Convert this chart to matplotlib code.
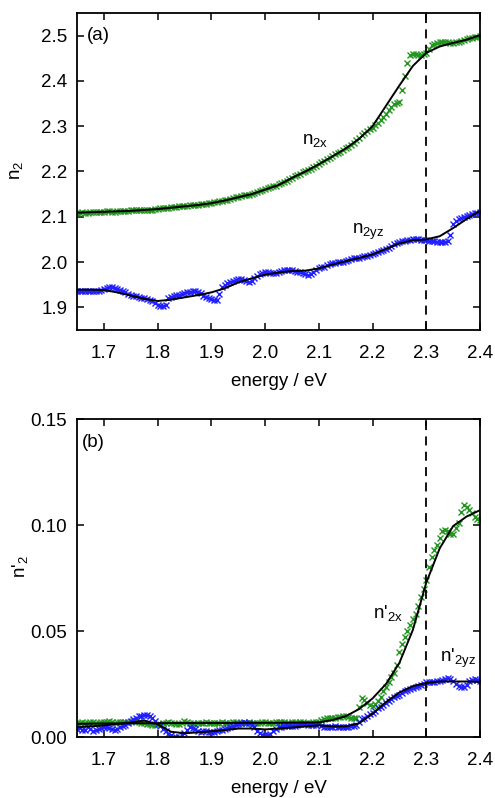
import numpy as np
import matplotlib
matplotlib.use("Agg")
import matplotlib.pyplot as plt
from matplotlib.ticker import FormatStrFormatter

plt.rcParams["font.family"] = ["Liberation Sans", "DejaVu Sans"]
plt.rcParams["mathtext.default"] = "regular"

# measured points, every 0.005 eV from 1.650 to 2.400 (10 per row)
energy = np.round(np.linspace(1.65, 2.40, 151), 3)

n2x = [2.108, 2.109, 2.110, 2.109, 2.108, 2.110, 2.111, 2.110, 2.110, 2.111,
       2.111, 2.112, 2.112, 2.111, 2.111, 2.112, 2.113, 2.113, 2.112, 2.113,
       2.114, 2.114, 2.114, 2.115, 2.115, 2.116, 2.116, 2.116, 2.116, 2.117,
       2.118, 2.119, 2.119, 2.120, 2.120, 2.121, 2.121, 2.122, 2.123, 2.124,
       2.124, 2.124, 2.125, 2.126, 2.126, 2.127, 2.128, 2.129, 2.129, 2.130,
       2.131, 2.132, 2.133, 2.134, 2.135, 2.137, 2.138, 2.140, 2.141, 2.143,
       2.144, 2.146, 2.147, 2.148, 2.149, 2.151, 2.153, 2.155, 2.157, 2.159,
       2.161, 2.163, 2.165, 2.167, 2.169, 2.172, 2.174, 2.177, 2.179, 2.183,
       2.186, 2.189, 2.192, 2.195, 2.198, 2.201, 2.204, 2.206, 2.209, 2.212,
       2.216, 2.220, 2.223, 2.227, 2.230, 2.234, 2.238, 2.241, 2.244, 2.247,
       2.251, 2.255, 2.259, 2.264, 2.269, 2.275, 2.280, 2.285, 2.289, 2.293,
       2.297, 2.302, 2.308, 2.314, 2.320, 2.327, 2.335, 2.342, 2.350, 2.352,
       2.353, 2.380, 2.410, 2.440, 2.458, 2.460, 2.460, 2.458, 2.457, 2.459,
       2.462, 2.470, 2.479, 2.482, 2.484, 2.485, 2.486, 2.486, 2.485, 2.484,
       2.484, 2.485, 2.487, 2.489, 2.491, 2.492, 2.494, 2.495, 2.497, 2.498,
       2.499]

n2yz = [1.936, 1.935, 1.935, 1.936, 1.936, 1.935, 1.935, 1.936, 1.936, 1.938,
        1.941, 1.943, 1.944, 1.944, 1.943, 1.941, 1.938, 1.935, 1.933, 1.930,
        1.928, 1.926, 1.924, 1.922, 1.921, 1.920, 1.918, 1.916, 1.914, 1.910,
        1.906, 1.903, 1.902, 1.905, 1.921, 1.923, 1.925, 1.927, 1.928, 1.930,
        1.931, 1.933, 1.934, 1.935, 1.935, 1.934, 1.931, 1.926, 1.922, 1.920,
        1.919, 1.917, 1.916, 1.930, 1.945, 1.950, 1.953, 1.955, 1.958, 1.960,
        1.962, 1.962, 1.960, 1.958, 1.957, 1.959, 1.965, 1.970, 1.974, 1.976,
        1.977, 1.977, 1.976, 1.976, 1.976, 1.978, 1.980, 1.982, 1.983, 1.983,
        1.982, 1.981, 1.979, 1.977, 1.975, 1.973, 1.972, 1.973, 1.977, 1.982,
        1.986, 1.988, 1.990, 1.993, 1.995, 1.997, 1.999, 2.000, 2.000, 2.001,
        2.002, 2.004, 2.006, 2.008, 2.009, 2.010, 2.011, 2.013, 2.014, 2.015,
        2.017, 2.019, 2.022, 2.024, 2.026, 2.028, 2.030, 2.035, 2.040, 2.042,
        2.044, 2.046, 2.047, 2.048, 2.049, 2.050, 2.050, 2.050, 2.049, 2.049,
        2.048, 2.047, 2.047, 2.046, 2.045, 2.044, 2.044, 2.045, 2.046, 2.060,
        2.085, 2.090, 2.094, 2.097, 2.100, 2.102, 2.104, 2.106, 2.108, 2.109,
        2.110]

dn2x = [0.0065, 0.0068, 0.0070, 0.0066, 0.0068, 0.0072, 0.0069, 0.0066, 0.0068, 0.0070,
        0.0070, 0.0073, 0.0074, 0.0070, 0.0068, 0.0070, 0.0071, 0.0069, 0.0069, 0.0071,
        0.0072, 0.0074, 0.0075, 0.0070, 0.0067, 0.0064, 0.0062, 0.0060, 0.0058, 0.0059,
        0.0060, 0.0063, 0.0066, 0.0068, 0.0070, 0.0067, 0.0064, 0.0062, 0.0061, 0.0068,
        0.0075, 0.0072, 0.0068, 0.0065, 0.0063, 0.0064, 0.0066, 0.0068, 0.0070, 0.0067,
        0.0064, 0.0066, 0.0067, 0.0068, 0.0069, 0.0067, 0.0066, 0.0068, 0.0070, 0.0069,
        0.0068, 0.0067, 0.0066, 0.0068, 0.0069, 0.0067, 0.0065, 0.0066, 0.0068, 0.0069,
        0.0070, 0.0068, 0.0066, 0.0068, 0.0069, 0.0071, 0.0072, 0.0069, 0.0067, 0.0068,
        0.0070, 0.0069, 0.0068, 0.0070, 0.0071, 0.0068, 0.0066, 0.0067, 0.0069, 0.0071,
        0.0072, 0.0078, 0.0085, 0.0088, 0.0090, 0.0091, 0.0092, 0.0094, 0.0095, 0.0097,
        0.0098, 0.0093, 0.0088, 0.0090, 0.0092, 0.0140, 0.0185, 0.0175, 0.0160, 0.0152,
        0.0145, 0.0155, 0.0170, 0.0190, 0.0215, 0.0238, 0.0260, 0.0285, 0.0300, 0.0340,
        0.0400, 0.0440, 0.0470, 0.0500, 0.0530, 0.0555, 0.0580, 0.0620, 0.0660, 0.0700,
        0.0740, 0.0800, 0.0850, 0.0880, 0.0905, 0.0940, 0.0970, 0.0975, 0.0970, 0.0960,
        0.0960, 0.0985, 0.1010, 0.1060, 0.1095, 0.1085, 0.1070, 0.1055, 0.1040, 0.1030,
        0.1025]

dn2yz = [0.0040, 0.0042, 0.0035, 0.0032, 0.0045, 0.0040, 0.0030, 0.0034, 0.0038, 0.0044,
         0.0048, 0.0045, 0.0042, 0.0038, 0.0035, 0.0040, 0.0048, 0.0052, 0.0055, 0.0065,
         0.0075, 0.0085, 0.0092, 0.0097, 0.0100, 0.0102, 0.0105, 0.0098, 0.0088, 0.0075,
         0.0060, 0.0050, 0.0040, 0.0028, 0.0015, 0.0008, 0.0002, 0.0000, 0.0000, 0.0008,
         0.0020, 0.0035, 0.0045, 0.0042, 0.0038, 0.0030, 0.0025, 0.0028, 0.0030, 0.0025,
         0.0022, 0.0025, 0.0028, 0.0032, 0.0035, 0.0038, 0.0042, 0.0046, 0.0050, 0.0056,
         0.0062, 0.0066, 0.0070, 0.0068, 0.0065, 0.0055, 0.0045, 0.0030, 0.0018, 0.0010,
         0.0008, 0.0010, 0.0015, 0.0028, 0.0040, 0.0045, 0.0048, 0.0050, 0.0052, 0.0051,
         0.0050, 0.0054, 0.0058, 0.0060, 0.0062, 0.0060, 0.0058, 0.0056, 0.0055, 0.0058,
         0.0060, 0.0054, 0.0048, 0.0046, 0.0045, 0.0047, 0.0050, 0.0049, 0.0048, 0.0047,
         0.0046, 0.0048, 0.0050, 0.0052, 0.0055, 0.0070, 0.0085, 0.0092, 0.0100, 0.0108,
         0.0115, 0.0125, 0.0135, 0.0142, 0.0150, 0.0160, 0.0170, 0.0180, 0.0190, 0.0195,
         0.0200, 0.0208, 0.0215, 0.0220, 0.0225, 0.0230, 0.0235, 0.0240, 0.0245, 0.0252,
         0.0258, 0.0259, 0.0260, 0.0261, 0.0262, 0.0265, 0.0268, 0.0273, 0.0278, 0.0274,
         0.0265, 0.0252, 0.0240, 0.0236, 0.0235, 0.0245, 0.0262, 0.0270, 0.0275, 0.0270,
         0.0262]

# fitted curves, every 0.025 eV
energy_fit = np.round(np.linspace(1.65, 2.40, 31), 4)

n2x_fit = [2.109, 2.110, 2.111, 2.112, 2.113, 2.115, 2.117, 2.120, 2.123, 2.126,
           2.130, 2.136, 2.143, 2.150, 2.160, 2.170, 2.186, 2.200, 2.216, 2.233,
           2.251, 2.272, 2.300, 2.345, 2.390, 2.433, 2.462, 2.476, 2.484, 2.491,
           2.501]

n2yz_fit = [1.939, 1.939, 1.938, 1.933, 1.926, 1.919, 1.914, 1.917, 1.922, 1.927,
            1.933, 1.942, 1.955, 1.964, 1.972, 1.977, 1.980, 1.981, 1.986, 1.994,
            2.002, 2.009, 2.017, 2.029, 2.041, 2.048, 2.050, 2.057, 2.075, 2.095,
            2.113]

dn2x_fit = [0.0062, 0.0063, 0.0064, 0.0064, 0.0065, 0.0065, 0.0065, 0.0066, 0.0066, 0.0066,
            0.0066, 0.0066, 0.0067, 0.0067, 0.0067, 0.0067, 0.0068, 0.0068, 0.0069, 0.0080,
            0.0098, 0.0132, 0.0182, 0.0250, 0.0350, 0.0505, 0.0728, 0.0890, 0.0995, 0.1040,
            0.1070]

dn2yz_fit = [0.0046, 0.0050, 0.0055, 0.0062, 0.0068, 0.0078, 0.0060, 0.0025, 0.0018, 0.0022,
             0.0027, 0.0033, 0.0040, 0.0040, 0.0036, 0.0040, 0.0045, 0.0050, 0.0055, 0.0050,
             0.0050, 0.0065, 0.0110, 0.0165, 0.0210, 0.0240, 0.0255, 0.0262, 0.0262, 0.0262,
             0.0260]

green = "#22961e"
blue = "#1f1fff"
fs = 13.5

fig = plt.figure(figsize=(4.95, 7.98), dpi=100)
ax1 = fig.add_axes([0.1556, 0.5865, 0.8141, 0.3972])
ax2 = fig.add_axes([0.1556, 0.0764, 0.8141, 0.3985])

mk = dict(marker="x", linestyle="none", markersize=4, markeredgewidth=1.0)
dash = dict(color="black", lw=1.3, linestyle=(0, (5, 3.5)))

# (a) real part
ax1.plot(energy, n2x, color=green, **mk)
ax1.plot(energy, n2yz, color=blue, **mk)
ax1.plot(energy_fit, n2x_fit, color="black", lw=1.4)
ax1.plot(energy_fit, n2yz_fit, color="black", lw=1.4)
ax1.axvline(2.3, **dash)
ax1.set_ylim(1.85, 2.55)
ax1.set_yticks([1.9, 2.0, 2.1, 2.2, 2.3, 2.4, 2.5])
ax1.yaxis.set_major_formatter(FormatStrFormatter("%.1f"))
ax1.set_ylabel("n$_2$", fontsize=fs)
ax1.yaxis.set_label_coords(-0.129, 0.505)
ax1.text(0.025, 0.93, "(a)", transform=ax1.transAxes, fontsize=fs, va="center")
ax1.text(2.068, 2.268, "n$_{2x}$", fontsize=fs, va="center")
ax1.text(2.162, 2.066, "n$_{2yz}$", fontsize=fs, va="center")

# (b) imaginary part
ax2.plot(energy, dn2x, color=green, **mk)
ax2.plot(energy, dn2yz, color=blue, **mk)
ax2.plot(energy_fit, dn2x_fit, color="black", lw=1.4)
ax2.plot(energy_fit, dn2yz_fit, color="black", lw=1.4)
ax2.axvline(2.3, **dash)
ax2.set_ylim(0, 0.15)
ax2.set_yticks([0.0, 0.05, 0.10, 0.15])
ax2.yaxis.set_major_formatter(FormatStrFormatter("%.2f"))
ax2.set_ylabel("n'$_2$", fontsize=fs)
ax2.yaxis.set_label_coords(-0.117, 0.535)
ax2.text(0.0124, 0.925, "(b)", transform=ax2.transAxes, fontsize=fs, va="center")
ax2.text(2.201, 0.0585, "n'$_{2x}$", fontsize=fs, va="center")
ax2.text(2.326, 0.0373, "n'$_{2yz}$", fontsize=fs, va="center")

for ax in (ax1, ax2):
    ax.set_xlim(1.65, 2.40)
    ax.set_xticks([1.7, 1.8, 1.9, 2.0, 2.1, 2.2, 2.3, 2.4])
    ax.xaxis.set_major_formatter(FormatStrFormatter("%.1f"))
    ax.set_xlabel("energy / eV", fontsize=fs)
    ax.xaxis.set_label_coords(0.5, -0.135)
    ax.tick_params(direction="in", top=True, right=True, length=5, width=1.1,
                   labelsize=fs)
    ax.tick_params(axis="x", pad=11)
    ax.tick_params(axis="y", pad=7)
    for s in ax.spines.values():
        s.set_linewidth(1.3)

fig.savefig("out.png", dpi=100)
